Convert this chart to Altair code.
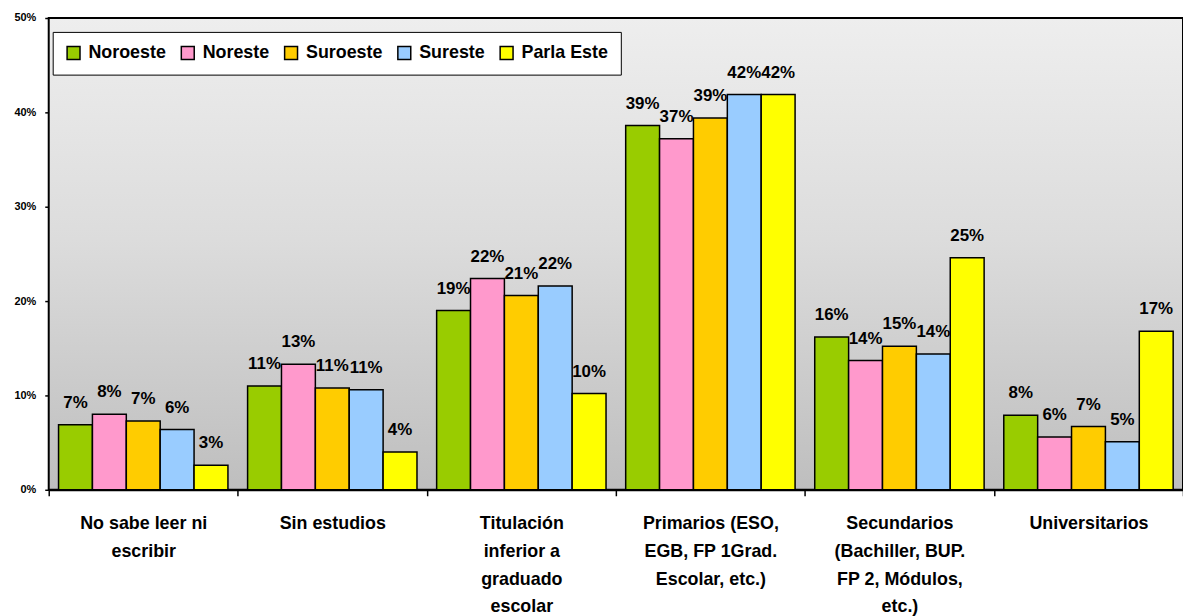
import altair as alt
import pandas as pd

categories = [
    "No sabe leer ni\nescribir",
    "Sin estudios",
    "Titulación\ninferior a\ngraduado\nescolar",
    "Primarios (ESO,\nEGB, FP 1Grad.\nEscolar, etc.)",
    "Secundarios\n(Bachiller, BUP.\nFP 2, Módulos,\netc.)",
    "Universitarios",
]
series = ["Noroeste", "Noreste", "Suroeste", "Sureste", "Parla Este"]
colors = ["#99CC00", "#FF99CC", "#FFCC00", "#99CCFF", "#FFFF00"]

noroeste = [0.069, 0.110, 0.190, 0.386, 0.162, 0.079]
noreste = [0.080, 0.133, 0.224, 0.372, 0.137, 0.056]
suroeste = [0.073, 0.108, 0.206, 0.394, 0.152, 0.067]
sureste = [0.064, 0.106, 0.216, 0.419, 0.144, 0.051]
parla_este = [0.026, 0.040, 0.102, 0.419, 0.246, 0.168]

values = [noroeste, noreste, suroeste, sureste, parla_este]
rows = []
for s, vals in zip(series, values):
    for c, v in zip(categories, vals):
        rows.append({"cat": c, "serie": s, "val": v})
df = pd.DataFrame(rows)

W, H = 1142, 475
FONT = "Liberation Sans"

gradient = alt.LinearGradient(
    gradient="linear",
    stops=[
        alt.GradientStop(color="#eeeeee", offset=0),
        alt.GradientStop(color="#dcdcdc", offset=0.47),
        alt.GradientStop(color="#bebebe", offset=1),
    ],
    x1=0, x2=0, y1=0, y2=1,
)

bg = alt.Chart(pd.DataFrame({"k": [0]})).mark_rect(
    fill=gradient, stroke="black", strokeWidth=2
).encode(x=alt.value(0), x2=alt.value(W), y=alt.value(0), y2=alt.value(H))

base = alt.Chart(df).encode(
    x=alt.X(
        "cat:N",
        sort=categories,
        scale=alt.Scale(paddingInner=0, paddingOuter=0),
        axis=alt.Axis(
            title=None,
            labelAngle=0,
            tickBand="extent",
            tickSize=6,
            tickWidth=1.5,
            tickColor="black",
            domainColor="black",
            domainWidth=2,
            labelFont=FONT,
            labelFontSize=18,
            labelFontWeight="bold",
            labelColor="black",
            labelLineHeight=28,
            labelPadding=19,
            labelLimit=0,
            labelExpr="split(datum.label, '\\n')",
        ),
    ),
    xOffset=alt.XOffset(
        "serie:N", sort=series, scale=alt.Scale(paddingInner=0, paddingOuter=0.29)
    ),
    y=alt.Y(
        "val:Q",
        scale=alt.Scale(domain=[0, 0.5], nice=False),
        axis=alt.Axis(
            title=None,
            values=[0, 0.1, 0.2, 0.3, 0.4, 0.5],
            format=".0%",
            grid=False,
            domainColor="black",
            domainWidth=2,
            tickColor="black",
            tickSize=4,
            tickWidth=1.5,
            labelFont=FONT,
            labelFontSize=11,
            labelFontWeight="bold",
            labelColor="black",
            labelPadding=9,
        ),
    ),
)

bars = base.mark_bar(stroke="black", strokeWidth=1.5, opacity=1).encode(
    color=alt.Color(
        "serie:N",
        sort=series,
        scale=alt.Scale(domain=series, range=colors),
        legend=alt.Legend(
            title=None,
            orient="none",
            legendX=4,
            legendY=14,
            direction="horizontal",
            fillColor="white",
            strokeColor="black",
            padding=12,
            symbolType="square",
            symbolSize=169,
            symbolStrokeColor="black",
            symbolStrokeWidth=1.5,
            symbolOpacity=1,
            labelFont=FONT,
            labelFontSize=18,
            labelFontWeight="bold",
            labelColor="black",
            labelOffset=6,
            columnPadding=11,
        ),
    )
)

labels = base.mark_text(
    dy=-17, baseline="alphabetic", font=FONT, fontSize=17, fontWeight="bold", color="black"
).encode(text=alt.Text("val:Q", format=".0%"))

chart = alt.layer(bg, bars, labels).properties(
    width=W,
    height=H,
    autosize=alt.AutoSizeParams(type="none"),
    padding={"left": 41, "top": 8, "right": 0, "bottom": 125},
).configure_view(stroke=None).configure(background="white")

chart.save("out.html", embed_options={"renderer": "svg", "actions": False})
